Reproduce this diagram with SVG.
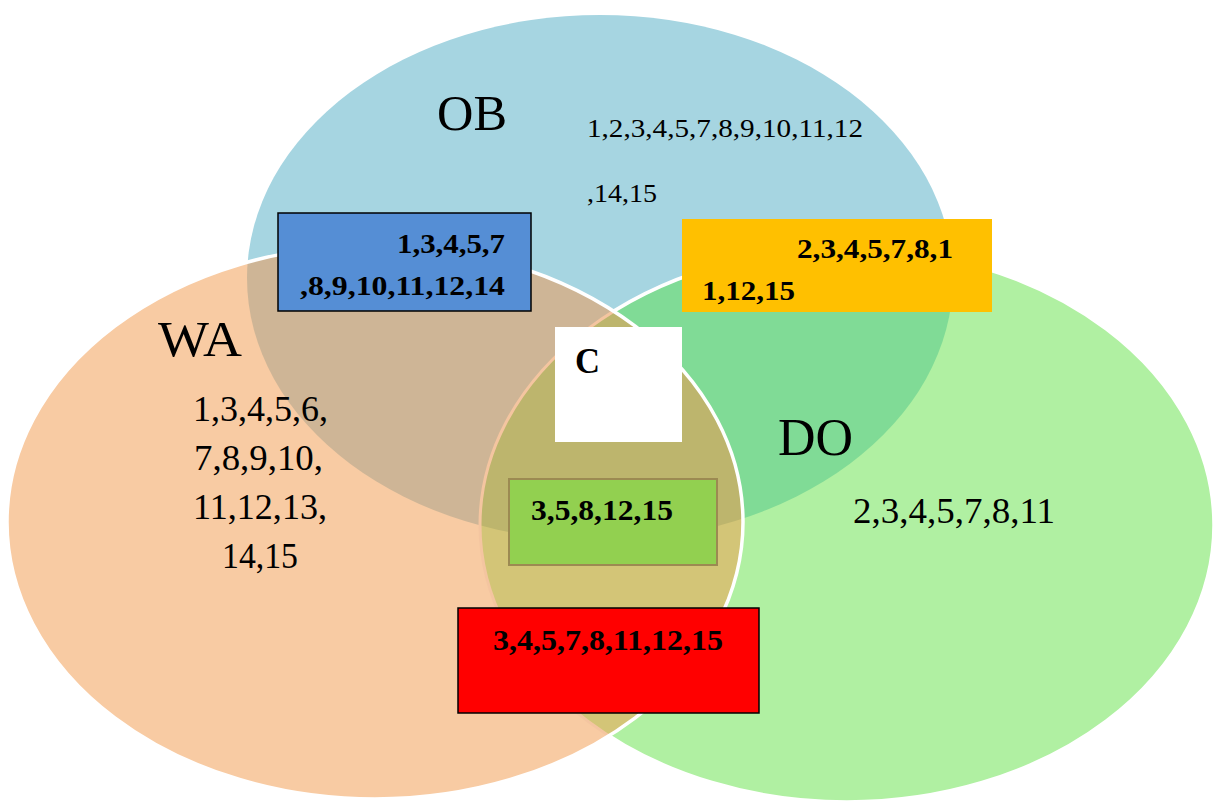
<svg xmlns="http://www.w3.org/2000/svg" width="1215" height="801" viewBox="0 0 1215 801">
  <style>
    .lbl { font-family: "Liberation Serif", "Times New Roman", serif; fill: #000; }
    .bold { font-weight: bold; }
    .box { stroke: #000; stroke-width: 1.5; }
  </style>
  <defs>
    <clipPath id="cOB"><ellipse cx="600" cy="278" rx="353" ry="263"/></clipPath>
    <clipPath id="cWA"><ellipse cx="375" cy="522" rx="368" ry="277"/></clipPath>
    <clipPath id="cDO"><ellipse cx="847" cy="525" rx="367" ry="277"/></clipPath>
  </defs>
  <rect width="1215" height="801" fill="#ffffff"/>

  <g id="set-OB">
    <ellipse cx="600" cy="278" rx="353" ry="263" fill="#a6d5e1"/>
  </g>
  <g id="set-DO">
    <ellipse cx="847" cy="525" rx="367" ry="277" fill="#b0f0a2"/>
    <ellipse cx="600" cy="278" rx="353" ry="263" fill="#80db96" clip-path="url(#cDO)"/>
    <ellipse cx="847" cy="525" rx="367" ry="277" fill="none" stroke="#ffffff" stroke-width="3.5"/>
  </g>
  <g id="set-WA">
    <ellipse cx="375" cy="522" rx="368" ry="277" fill="#f8cba3"/>
    <ellipse cx="600" cy="278" rx="353" ry="263" fill="#ceb596" clip-path="url(#cWA)"/>
    <ellipse cx="847" cy="525" rx="367" ry="277" fill="#d3c577" clip-path="url(#cWA)"/>
    <g clip-path="url(#cWA)">
      <ellipse cx="600" cy="278" rx="353" ry="263" fill="#bdb56d" clip-path="url(#cDO)"/>
      <ellipse cx="847" cy="525" rx="367" ry="277" fill="none" stroke="#f4c5a0" stroke-width="3"/>
    </g>
    <ellipse cx="375" cy="522" rx="368" ry="277" fill="none" stroke="#ffffff" stroke-width="3.5"/>
  </g>

  <g id="label-OB">
    <text class="lbl" x="437" y="130" font-size="50" textLength="70" lengthAdjust="spacingAndGlyphs">OB</text>
    <text class="lbl" x="587" y="137" font-size="26" textLength="276" lengthAdjust="spacingAndGlyphs">1,2,3,4,5,7,8,9,10,11,12</text>
    <text class="lbl" x="587" y="202" font-size="26" textLength="70" lengthAdjust="spacingAndGlyphs">,14,15</text>
  </g>
  <g id="label-WA">
    <text class="lbl" x="158" y="356" font-size="51" textLength="84" lengthAdjust="spacingAndGlyphs">WA</text>
    <text class="lbl" x="193" y="421" font-size="35" textLength="135" lengthAdjust="spacingAndGlyphs">1,3,4,5,6,</text>
    <text class="lbl" x="194" y="470" font-size="35" textLength="129" lengthAdjust="spacingAndGlyphs">7,8,9,10,</text>
    <text class="lbl" x="193" y="519" font-size="35" textLength="134" lengthAdjust="spacingAndGlyphs">11,12,13,</text>
    <text class="lbl" x="222" y="568" font-size="35" textLength="76" lengthAdjust="spacingAndGlyphs">14,15</text>
  </g>
  <g id="label-DO">
    <text class="lbl" x="778" y="455" font-size="52" textLength="75" lengthAdjust="spacingAndGlyphs">DO</text>
    <text class="lbl" x="853" y="523" font-size="36" textLength="202" lengthAdjust="spacingAndGlyphs">2,3,4,5,7,8,11</text>
  </g>

  <g id="box-WA-OB">
    <rect class="box" x="278" y="213" width="253" height="98" fill="#558ed5"/>
    <text class="lbl bold" x="397" y="253" font-size="28" textLength="108" lengthAdjust="spacingAndGlyphs">1,3,4,5,7</text>
    <text class="lbl bold" x="300" y="295" font-size="28" textLength="205" lengthAdjust="spacingAndGlyphs">,8,9,10,11,12,14</text>
  </g>
  <g id="box-OB-DO">
    <rect x="682" y="219" width="310" height="93" fill="#ffc000"/>
    <text class="lbl bold" x="797" y="258" font-size="28" textLength="156" lengthAdjust="spacingAndGlyphs">2,3,4,5,7,8,1</text>
    <text class="lbl bold" x="702" y="300" font-size="28" textLength="93" lengthAdjust="spacingAndGlyphs">1,12,15</text>
  </g>
  <g id="box-C">
    <rect x="555" y="327" width="127" height="115" fill="#ffffff"/>
    <text class="lbl bold" x="575" y="373" font-size="36" textLength="25" lengthAdjust="spacingAndGlyphs">C</text>
  </g>
  <g id="box-center">
    <rect x="509" y="479" width="208" height="86" fill="#92d050" stroke="#9c8a52" stroke-width="2"/>
    <text class="lbl bold" x="531" y="520" font-size="30" textLength="142" lengthAdjust="spacingAndGlyphs">3,5,8,12,15</text>
  </g>
  <g id="box-WA-DO">
    <rect class="box" x="458" y="608" width="301" height="105" fill="#ff0000"/>
    <text class="lbl bold" x="493" y="650" font-size="30" textLength="230" lengthAdjust="spacingAndGlyphs">3,4,5,7,8,11,12,15</text>
  </g>
  <g id="connectors"/>
</svg>
